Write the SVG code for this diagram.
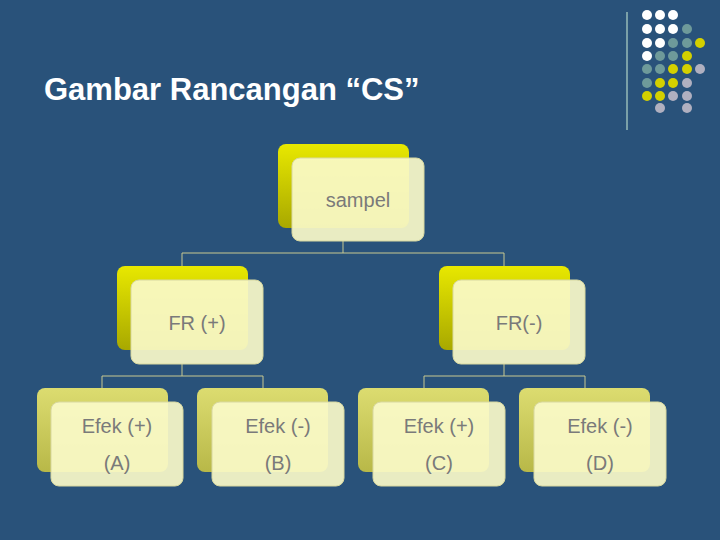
<svg xmlns="http://www.w3.org/2000/svg" width="720" height="540" viewBox="0 0 720 540">
<defs>
<linearGradient id="gy" x1="0" y1="0" x2="0" y2="1"><stop offset="0" stop-color="#e8e800"/><stop offset="1" stop-color="#a8a800"/></linearGradient>
<linearGradient id="gl" x1="0" y1="0" x2="0" y2="1"><stop offset="0" stop-color="#dcdc70"/><stop offset="1" stop-color="#b8b848"/></linearGradient>
<style>
.fr{fill:#fafac8;fill-opacity:0.92;stroke:#d8d8a0;stroke-width:1}
.t{font-family:"Liberation Sans",Arial,sans-serif;font-size:20px;fill:#7a7a7a;text-anchor:middle}
.c{fill:none;stroke:#c8c890;stroke-width:1}
</style>
</defs>
<rect width="720" height="540" fill="#29527a"/>
<text x="44" y="100" font-family="Liberation Sans,Arial,sans-serif" font-weight="bold" font-size="31" fill="#ffffff">Gambar Rancangan “CS”</text>
<line x1="627" y1="12" x2="627" y2="130" stroke="#7aa0a8" stroke-width="2"/>
<g id="dots">
<g fill="#ffffff"><circle cx="647" cy="15" r="5"/><circle cx="660" cy="15" r="5"/><circle cx="673" cy="15" r="5"/><circle cx="647" cy="29" r="5"/><circle cx="660" cy="29" r="5"/><circle cx="673" cy="29" r="5"/><circle cx="647" cy="43" r="5"/><circle cx="660" cy="43" r="5"/><circle cx="647" cy="56" r="5"/></g>
<g fill="#6e9a9a"><circle cx="687" cy="29" r="5"/><circle cx="673" cy="43" r="5"/><circle cx="687" cy="43" r="5"/><circle cx="660" cy="56" r="5"/><circle cx="673" cy="56" r="5"/><circle cx="647" cy="69" r="5"/><circle cx="660" cy="69" r="5"/><circle cx="647" cy="83" r="5"/></g>
<g fill="#d4d000"><circle cx="700" cy="43" r="5"/><circle cx="687" cy="56" r="5"/><circle cx="673" cy="69" r="5"/><circle cx="687" cy="69" r="5"/><circle cx="660" cy="83" r="5"/><circle cx="673" cy="83" r="5"/><circle cx="647" cy="96" r="5"/><circle cx="660" cy="96" r="5"/></g>
<g fill="#b0b0c0"><circle cx="700" cy="69" r="5"/><circle cx="687" cy="83" r="5"/><circle cx="673" cy="96" r="5"/><circle cx="687" cy="96" r="5"/><circle cx="660" cy="108" r="5"/><circle cx="687" cy="108" r="5"/></g>
</g>
<g id="connectors">
<path class="c" d="M343 241V253M182 266V253H504V266"/>
<path class="c" d="M182 364V376M102 388V376H263V388"/>
<path class="c" d="M504 364V376M424 388V376H585V388"/>
</g>
<g id="sampel"><rect x="278" y="144" width="131" height="84" rx="8" fill="url(#gy)"/><rect class="fr" x="292" y="158" width="132" height="83" rx="8"/><text class="t" x="358" y="207">sampel</text></g>
<g id="frplus"><rect x="117" y="266" width="131" height="84" rx="8" fill="url(#gy)"/><rect class="fr" x="131" y="280" width="132" height="84" rx="8"/><text class="t" x="197" y="330">FR (+)</text></g>
<g id="frminus"><rect x="439" y="266" width="131" height="84" rx="8" fill="url(#gy)"/><rect class="fr" x="453" y="280" width="132" height="84" rx="8"/><text class="t" x="519" y="330">FR(-)</text></g>
<g id="a"><rect x="37" y="388" width="131" height="84" rx="8" fill="url(#gl)"/><rect class="fr" x="51" y="402" width="132" height="84" rx="8"/><text class="t" x="117" y="433">Efek (+)</text><text class="t" x="117" y="470">(A)</text></g>
<g id="b"><rect x="197" y="388" width="131" height="84" rx="8" fill="url(#gl)"/><rect class="fr" x="212" y="402" width="132" height="84" rx="8"/><text class="t" x="278" y="433">Efek (-)</text><text class="t" x="278" y="470">(B)</text></g>
<g id="c"><rect x="358" y="388" width="131" height="84" rx="8" fill="url(#gl)"/><rect class="fr" x="373" y="402" width="132" height="84" rx="8"/><text class="t" x="439" y="433">Efek (+)</text><text class="t" x="439" y="470">(C)</text></g>
<g id="d"><rect x="519" y="388" width="131" height="84" rx="8" fill="url(#gl)"/><rect class="fr" x="534" y="402" width="132" height="84" rx="8"/><text class="t" x="600" y="433">Efek (-)</text><text class="t" x="600" y="470">(D)</text></g>
</svg>
